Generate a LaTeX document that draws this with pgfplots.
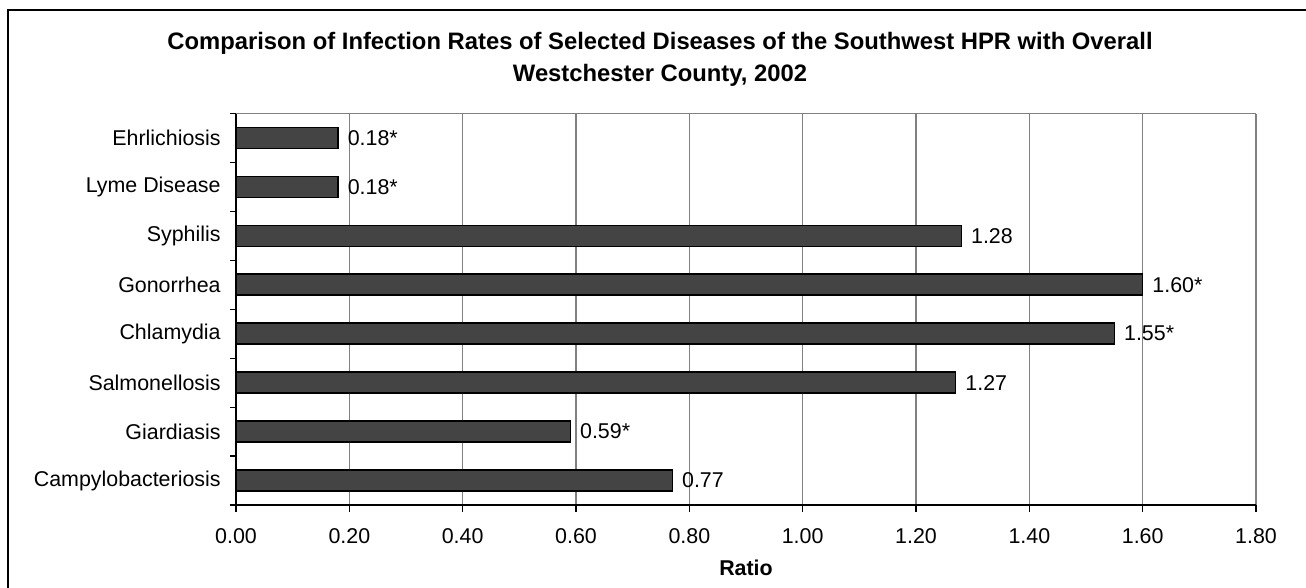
\documentclass[border=0pt]{standalone}
\usepackage{pgfplots}
\pgfplotsset{compat=1.18}
\usepackage{fontspec}
\setmainfont{Liberation Sans}

\definecolor{barfill}{RGB}{68,68,68}
\definecolor{gridgray}{RGB}{128,128,128}

\begin{document}
\begin{tikzpicture}
\path[use as bounding box] (0,0) rectangle (653pt,294pt);
\draw[line width=0.8pt] (4pt,-2pt) -- (4pt,289pt) -- (656pt,289pt);

\node[font=\fontsize{11.9}{14}\selectfont\bfseries] at (330pt,272.25pt)
  {Comparison of Infection Rates of Selected Diseases of the Southwest HPR with Overall};
\node[font=\fontsize{11.9}{14}\selectfont\bfseries] at (330pt,256.5pt)
  {Westchester County, 2002};

\begin{axis}[
  at={(118pt,41.5pt)}, anchor=south west,
  scale only axis,
  width=510pt, height=195.75pt,
  xbar, bar width=10.5pt,
  xmin=0, xmax=1.8,
  ymin=-0.5, ymax=7.5,
  xtick={0,0.2,...,1.8},
  ytick={0,...,7},
  yticklabels={Campylobacteriosis,Giardiasis,Salmonellosis,Chlamydia,
    Gonorrhea,Syphilis,Lyme Disease,Ehrlichiosis},
  minor ytick={-0.5,0.5,...,7.5},
  axis x line*=bottom, axis y line*=left,
  axis line style={-, line width=0.8pt},
  tick align=outside,
  major tick length=3.5pt, minor tick length=3pt,
  major y tick style={draw=none},
  minor y tick style={line width=0.6pt, black},
  major x tick style={line width=0.6pt, black},
  xmajorgrids,
  major x grid style={gridgray, line width=0.7pt},
  tick label style={font=\fontsize{10.7}{12}\selectfont},
  /pgf/number format/.cd, fixed, fixed zerofill, precision=2, assume math mode=true,
  /pgfplots/.cd,
  yticklabel style={anchor=east, inner sep=0pt, xshift=-4pt},
  xticklabel style={anchor=north, inner sep=0pt, yshift=-8pt},
  xlabel={Ratio},
  xlabel style={font=\fontsize{10.7}{12}\selectfont\bfseries, anchor=center, at={(0.5,0)}, yshift=-31.5pt},
  nodes near coords,
  point meta=explicit symbolic,
  every node near coord/.append style={anchor=west, inner sep=0pt, xshift=4.5pt,
    font=\fontsize{10.7}{12}\selectfont, black},
  clip=false,
]
\addplot[fill=barfill, draw=black, line width=0.8pt] coordinates {
  (0.77,0) [0.77]
  (0.59,1) [0.59*]
  (1.27,2) [1.27]
  (1.55,3) [1.55*]
  (1.60,4) [1.60*]
  (1.28,5) [1.28]
  (0.18,6) [0.18*]
  (0.18,7) [0.18*]
};
\draw[gridgray, line width=0.7pt] (rel axis cs:0,1) -- (rel axis cs:1,1);
\end{axis}
\end{tikzpicture}
\end{document}
